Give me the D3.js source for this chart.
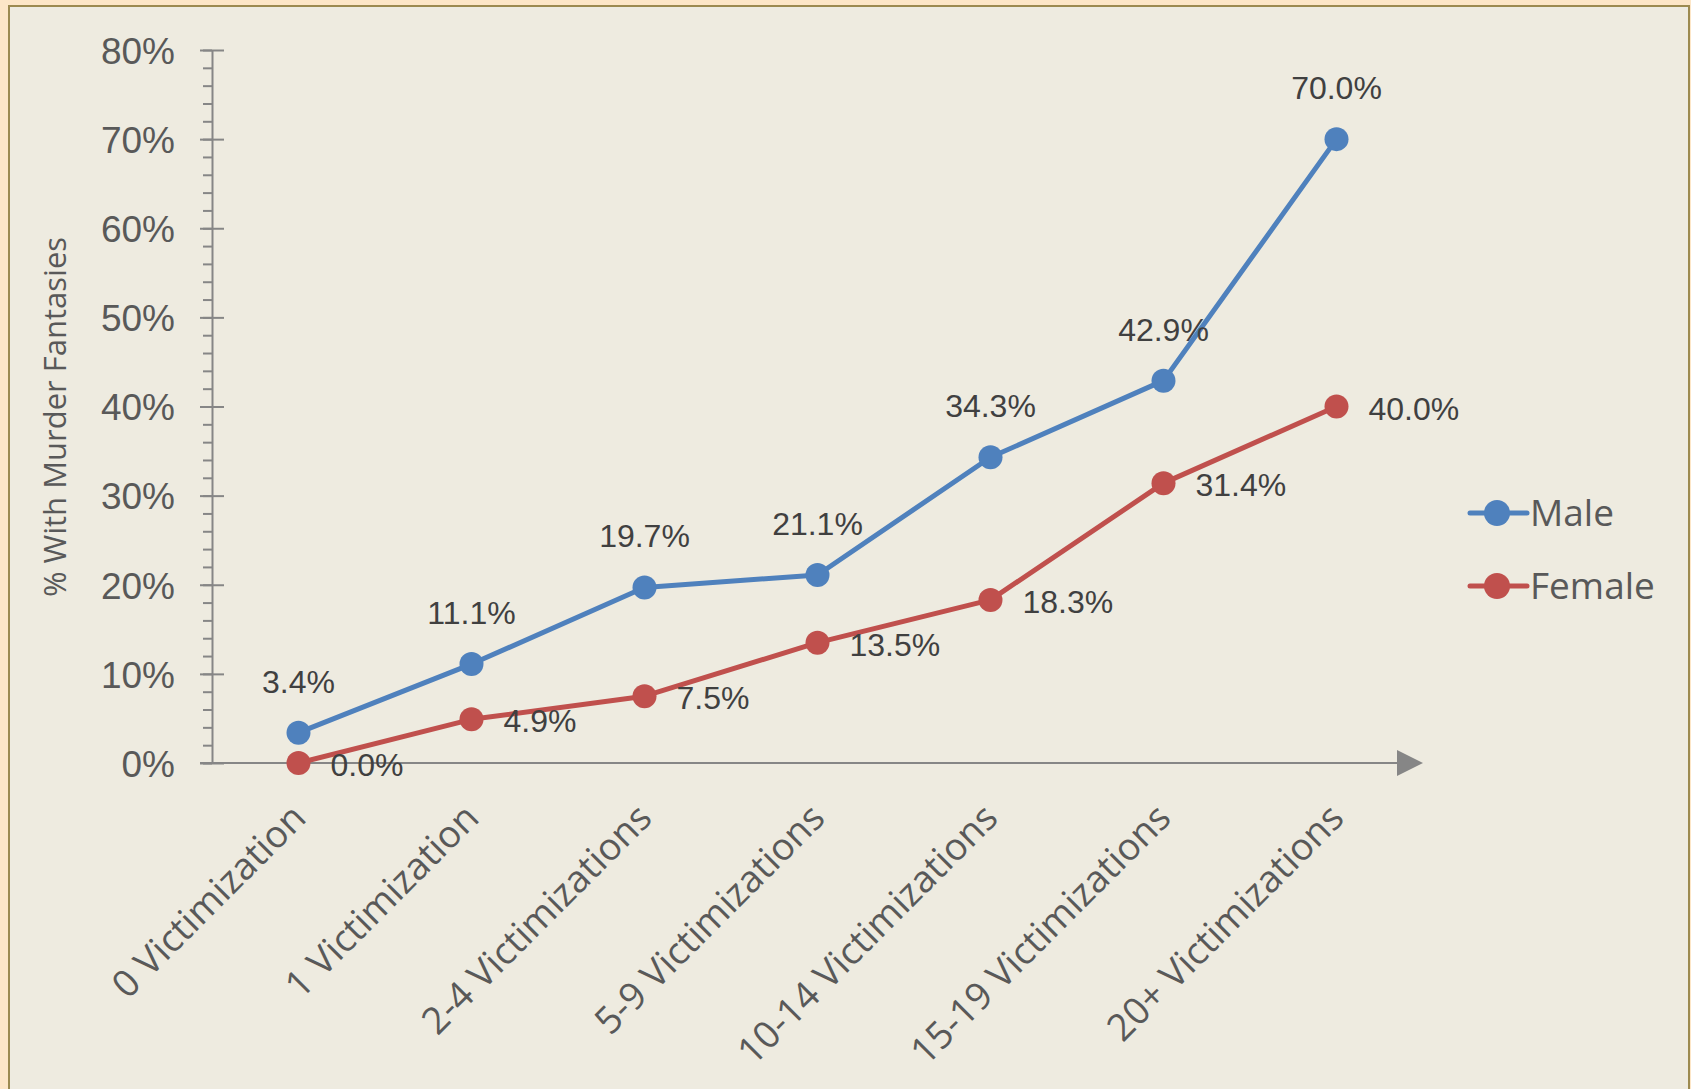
<html>
<script src="https://d3js.org/d3.v7.min.js"></script>
<style>
body { margin: 0; background: #fde6c7; }
svg { display: block; }
</style>
<body>
<svg width="1691" height="1089"></svg>
<script>
// values
const categories = ["0 Victimization", "1 Victimization", "2-4 Victimizations", "5-9 Victimizations",
  "10-14 Victimizations", "15-19 Victimizations", "20+ Victimizations"];
const maleValues = [0.034, 0.111, 0.197, 0.211, 0.343, 0.429, 0.700];
const femaleValues = [0.000, 0.049, 0.075, 0.135, 0.183, 0.314, 0.400];
const yTicks = [0, 0.1, 0.2, 0.3, 0.4, 0.5, 0.6, 0.7, 0.8];
const seriesNames = ["Male", "Female"];
const seriesColors = ["#4f81bd", "#c0504d"];

const svg = d3.select("svg");
const axisColor = "#868686";
const textColor = "#595959";

// panel
svg.append("rect")
  .attr("x", 9).attr("y", 6)
  .attr("width", 1680).attr("height", 1100)
  .attr("fill", "#eeebe0")
  .attr("stroke", "#9c8a50")
  .attr("stroke-width", 2);

const x = d3.scalePoint().domain(categories).range([212, 1423]).padding(0.5);
const y = d3.scaleLinear().domain([0, 0.8]).range([763, 50]);
const x0 = 212, y0 = y(0);

// minor ticks
const minor = svg.append("g")
  .attr("transform", `translate(${x0},0)`)
  .call(d3.axisLeft(y).tickValues(d3.range(0, 0.801, 0.02)).tickSize(9).tickFormat(""));
minor.select(".domain").remove();
minor.selectAll("line").attr("stroke", axisColor).attr("stroke-width", 2);

// major ticks + labels
const yAxis = svg.append("g")
  .attr("transform", `translate(${x0},0)`)
  .call(d3.axisLeft(y).tickValues(yTicks).tickFormat(d3.format(".0%")).tickSize(12).tickSizeOuter(0));
yAxis.select(".domain").attr("stroke", axisColor).attr("stroke-width", 2);
yAxis.selectAll(".tick line").attr("x1", 12).attr("x2", -12).attr("stroke", axisColor).attr("stroke-width", 2);
yAxis.selectAll(".tick text")
  .attr("x", -37)
  .attr("dy", "0.36em")
  .style("font-family", "'Liberation Sans', Arial, sans-serif")
  .style("font-size", "37px")
  .attr("fill", textColor);

// x axis
const xAxis = svg.append("g")
  .attr("transform", `translate(0,${y0})`)
  .call(d3.axisBottom(x).tickSize(0).tickSizeOuter(0));
xAxis.select(".domain").remove();
xAxis.append("line")
  .attr("x1", 200).attr("x2", 1400)
  .attr("stroke", axisColor).attr("stroke-width", 2);
xAxis.append("path")
  .attr("d", "M1397,-13L1423,0L1397,13Z")
  .attr("fill", axisColor);
xAxis.selectAll(".tick text")
  .attr("y", 0).attr("dy", 0)
  .attr("text-anchor", "end")
  .attr("transform", "translate(9,57) rotate(-45)")
  .style("font-family", "'Open Sans', sans-serif")
  .style("font-size", "37.5px")
  .attr("fill", textColor);

// axis title
svg.append("text")
  .attr("transform", "translate(66,417) rotate(-90)")
  .attr("text-anchor", "middle")
  .style("font-family", "'Open Sans', sans-serif")
  .style("font-size", "31px")
  .attr("fill", textColor)
  .text("% With Murder Fantasies");

// lines and markers
const line = d3.line().x((d, i) => x(categories[i])).y(d => y(d));
const allSeries = [maleValues, femaleValues];

allSeries.forEach((vals, s) => {
  svg.append("path")
    .datum(vals)
    .attr("d", line)
    .attr("fill", "none")
    .attr("stroke", seriesColors[s])
    .attr("stroke-width", 5)
    .attr("stroke-linejoin", "round");
  svg.append("g")
    .selectAll("circle")
    .data(vals)
    .join("circle")
    .attr("cx", (d, i) => x(categories[i]))
    .attr("cy", d => y(d))
    .attr("r", 12)
    .attr("fill", seriesColors[s]);
});

// data labels
const fmt = d3.format(".1%");
const labelFont = "'Liberation Sans', Arial, sans-serif";
svg.append("g")
  .selectAll("text")
  .data(maleValues)
  .join("text")
  .attr("x", (d, i) => x(categories[i]))
  .attr("y", d => y(d) - 40)
  .attr("text-anchor", "middle")
  .style("font-family", labelFont)
  .style("font-size", "32px")
  .attr("fill", "#404040")
  .text(d => fmt(d));

svg.append("g")
  .selectAll("text")
  .data(femaleValues)
  .join("text")
  .attr("x", (d, i) => x(categories[i]) + 32)
  .attr("y", d => y(d) + 13)
  .style("font-family", labelFont)
  .style("font-size", "32px")
  .attr("fill", "#404040")
  .text(d => fmt(d));

// legend
const legend = svg.append("g")
  .selectAll("g")
  .data(seriesNames)
  .join("g")
  .attr("transform", (d, i) => `translate(1470,${513 + i * 73})`);
legend.append("line")
  .attr("x1", 0).attr("x2", 57)
  .attr("stroke", (d, i) => seriesColors[i])
  .attr("stroke-width", 5)
  .attr("stroke-linecap", "round");
legend.append("circle")
  .attr("cx", 27).attr("r", 13)
  .attr("fill", (d, i) => seriesColors[i]);
legend.append("text")
  .attr("x", 60)
  .attr("dy", "0.36em")
  .style("font-family", "'Open Sans', sans-serif")
  .style("font-size", "37px")
  .attr("fill", textColor)
  .text(d => d);
</script>
</body>
</html>
